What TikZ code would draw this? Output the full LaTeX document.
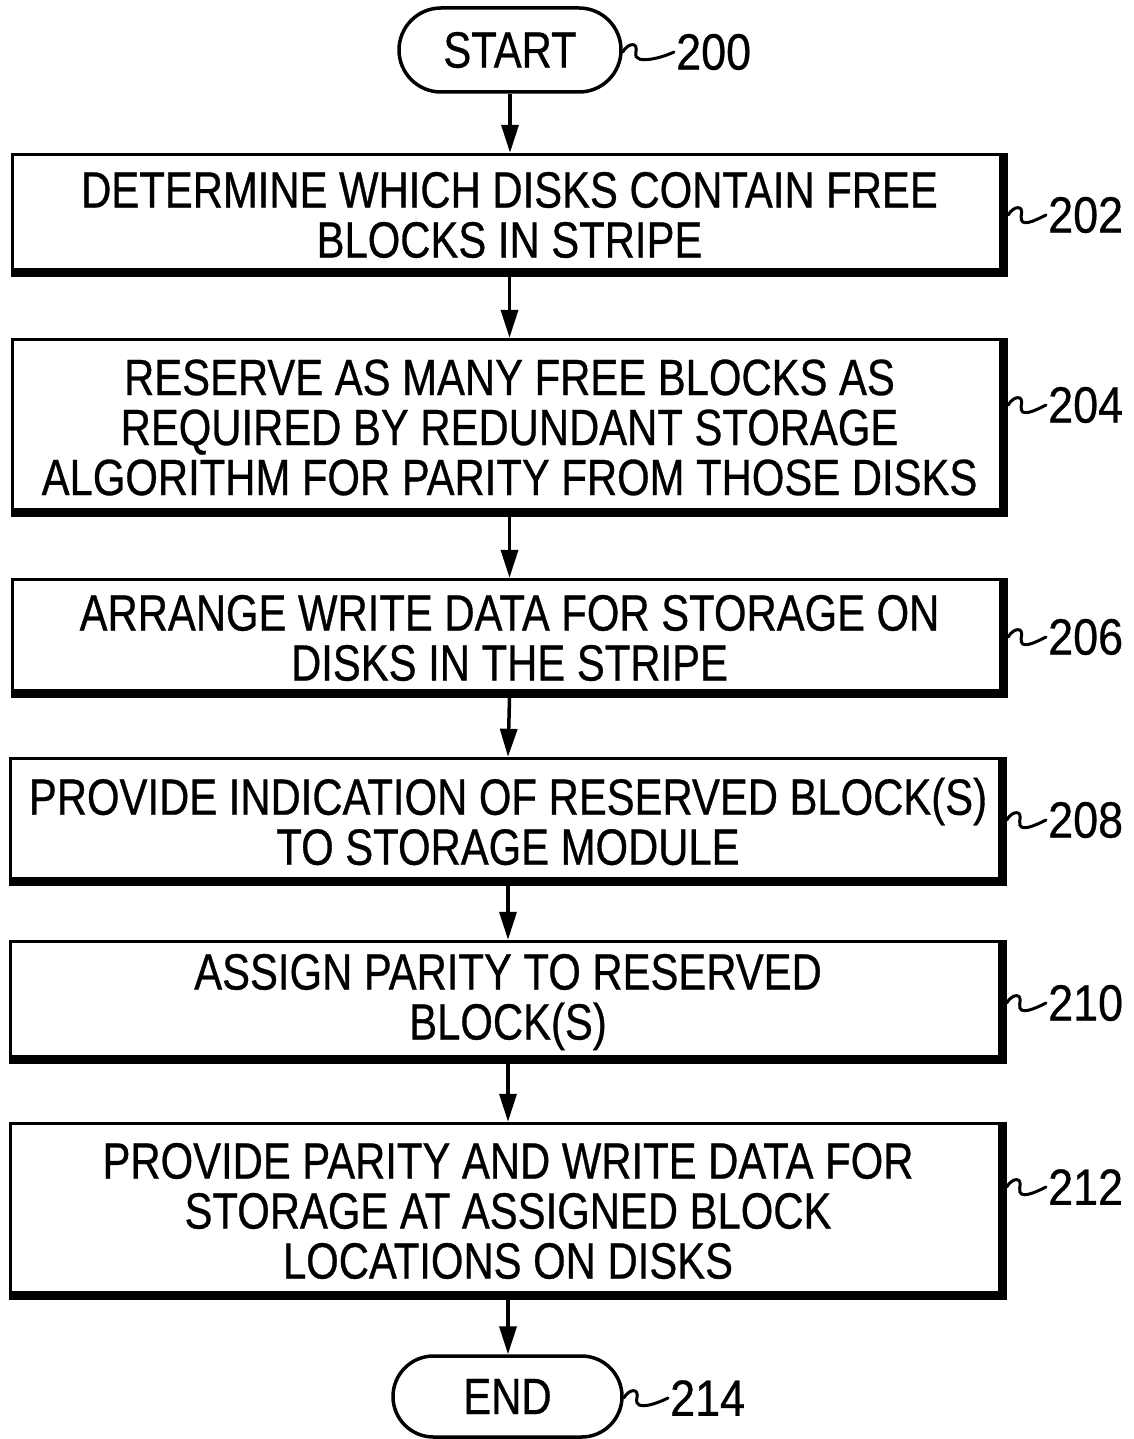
\documentclass[tikz,border=0pt]{standalone}
\usepackage{fontspec}
\setmainfont{Liberation Sans}[FakeStretch=0.82,FakeBold=0.6]
\newfontfamily\lblfont{Liberation Sans}[FakeStretch=0.88,FakeBold=0.6]
\usetikzlibrary{arrows.meta,calc,shapes.misc}
\begin{document}
\begin{tikzpicture}[x=1pt,y=1pt,
  txt/.style={font=\fontsize{51}{50}\selectfont},
  stepbox/.style={txt,rectangle,draw=none,minimum width=997pt,inner sep=0pt,align=center},
  term/.style={txt,rounded rectangle,draw,line width=3.5pt,inner sep=0pt},
  lbl/.style={font=\lblfont\fontsize{51}{50}\selectfont,anchor=west,inner sep=2pt},
  frameline/.style={line width=3pt},
  shadeline/.style={line width=9pt,line join=miter},
  arr/.style={line width=3.5pt,-{Triangle[length=28pt,width=17pt]}},
  squig/.style={line width=3pt,line cap=round}]
\useasboundingbox (0,0) rectangle (1134,-1439);

\node[term,minimum width=222pt,minimum height=84pt] (start) at (510,-50) {START};
\node[stepbox,minimum height=124pt] (b202) at (509.5,-215) {DETERMINE WHICH DISKS CONTAIN FREE\\BLOCKS IN STRIPE};
\node[stepbox,minimum height=179pt] (b204) at (509.5,-427.5) {RESERVE AS MANY FREE BLOCKS AS\\REQUIRED BY REDUNDANT STORAGE\\ALGORITHM FOR PARITY FROM THOSE DISKS};
\node[stepbox,minimum height=120pt] (b206) at (509.5,-638) {ARRANGE WRITE DATA FOR STORAGE ON\\DISKS IN THE STRIPE};
\node[stepbox,minimum height=129pt] (b208) at (508,-821.5) {PROVIDE INDICATION OF RESERVED BLOCK(S)\\TO STORAGE MODULE};
\node[stepbox,minimum height=124pt] (b210) at (508,-1002) {ASSIGN PARITY TO RESERVED\\BLOCK(S)};
\node[stepbox,minimum height=178pt] (b212) at (508,-1211) {PROVIDE PARITY AND WRITE DATA FOR\\STORAGE AT ASSIGNED BLOCK\\LOCATIONS ON DISKS};
\node[term,minimum width=229pt,minimum height=81pt] (end) at (507.5,-1396.5) {END};

\foreach \b in {b202,b204,b206,b208,b210,b212}{
  \draw[frameline] ($(\b.north west)+(1.5pt,-1.5pt)$) rectangle ($(\b.south east)+(-4.5pt,4.5pt)$);
  \draw[shadeline] ($(\b.north east)+(-4.5pt,0pt)$) -- ($(\b.south east)+(-4.5pt,4.5pt)$) -- ($(\b.south west)+(0pt,4.5pt)$);
}

\node[lbl] (l200) at (674,-52) {200};
\node[lbl] (l202) at (1046,-215) {202};
\node[lbl] (l204) at (1046,-405) {204};
\node[lbl] (l206) at (1046,-637) {206};
\node[lbl] (l208) at (1046,-820) {208};
\node[lbl] (l210) at (1046,-1003) {210};
\node[lbl] (l212) at (1046,-1187) {212};
\node[lbl] (l214) at (668,-1398) {214};

\foreach \b/\l in {start/l200,b202/l202,b204/l204,b206/l206,b208/l208,b210/l210,b212/l212,end/l214}{
  \draw[squig] (\b.east |- \l.west) .. controls +(5pt,9pt) and +(3pt,12pt) .. ++(13pt,-1pt)
     .. controls +(-2pt,-13pt) and +(-10pt,-5pt) .. (\l.west);
}

\draw[arr] (start.south) -- (start.south |- b202.north);
\draw[arr] (b202.south) -- (b204.north);
\draw[arr] (b204.south) -- (b206.north);
\draw[arr] (b206.south) -- (b208.north);
\draw[arr] (b208.south) -- (b210.north);
\draw[arr] (b210.south) -- (b212.north);
\draw[arr] (b212.south) -- (b212.south |- end.north);
\end{tikzpicture}
\end{document}
